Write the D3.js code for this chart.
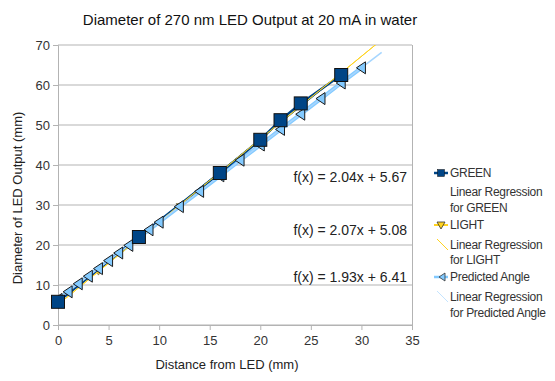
<!DOCTYPE html>
<html>
<head>
<meta charset="utf-8">
<script src="https://cdn.jsdelivr.net/npm/d3@7"></script>
<style>
  body { margin: 0; background: #fff; }
  svg { font-family: "Liberation Sans", Arial, sans-serif; }
</style>
</head>
<body>
<svg id="chart" width="555" height="381"></svg>
<script>
// ---- data ----
const greenX = [0, 8, 16, 20, 22, 24, 28];
const greenY = [5.8, 22, 38, 46.3, 51.2, 55.4, 62.5];

const lightX = [0, 4, 8, 12, 16, 20, 24, 28, 32];
const lightY = [5.1, 13.4, 21.6, 29.9, 38.2, 46.5, 54.8, 63.0, 71.3];

const predX = [0, 1, 2, 3, 4, 5, 6, 7, 8, 9, 10, 12, 14, 16, 18, 20, 22, 24, 26, 28, 30];
const predY = [6.4, 8.3, 10.3, 12.2, 14.1, 16.1, 18.0, 19.9, 21.9, 23.8, 25.7, 29.6, 33.4, 37.3, 41.2, 45.0, 48.9, 52.7, 56.6, 60.5, 64.3];

const trendSlopes = [2.04, 2.07, 1.93];
const trendIntercepts = [5.67, 5.08, 6.41];
const trendRanges = [[0, 28], [0, 32], [0, 32]];
const equationLabels = ["f(x) = 2.04x + 5.67", "f(x) = 2.07x + 5.08", "f(x) = 1.93x + 6.41"];

const xTicks = [0, 5, 10, 15, 20, 25, 30, 35];
const yTicks = [0, 10, 20, 30, 40, 50, 60, 70];

const legendLabels = [
  ["GREEN"], ["Linear Regression", "for GREEN"],
  ["LIGHT"], ["Linear Regression", "for LIGHT"],
  ["Predicted Angle"], ["Linear Regression", "for Predicted Angle"]
];

const colGreen = "#004586", colLight = "#ffd320", colPred = "#83caff";

// ---- chart ----
const svg = d3.select("#chart");
const x = d3.scaleLinear().domain([0, 35]).range([58, 412]);
const y = d3.scaleLinear().domain([0, 70]).range([325, 45]);

svg.append("defs").append("clipPath").attr("id", "clip")
  .append("rect").attr("x", 58).attr("y", 45).attr("width", 354).attr("height", 280);

// gridlines
svg.append("g").selectAll("line").data(yTicks).join("line")
  .attr("x1", 58).attr("x2", 412)
  .attr("y1", d => y(d)).attr("y2", d => y(d))
  .attr("stroke", "#b3b3b3").attr("stroke-width", 1);
// right border
svg.append("line").attr("x1", 412.5).attr("x2", 412.5).attr("y1", 45).attr("y2", 325)
  .attr("stroke", "#b3b3b3");

// axes
const yAxis = svg.append("g").attr("transform", "translate(58,0)")
  .call(d3.axisLeft(y).tickValues(yTicks).tickSize(5).tickPadding(3));
const xAxis = svg.append("g").attr("transform", "translate(0,325)")
  .call(d3.axisBottom(x).tickValues(xTicks).tickSize(5).tickPadding(6));
[yAxis, xAxis].forEach(a => {
  a.selectAll("path,line").attr("stroke", "#b3b3b3");
  a.selectAll("text").attr("font-size", 13).attr("fill", "#333")
    .attr("font-family", "Liberation Sans, Arial, sans-serif");
});

const plot = svg.append("g").attr("clip-path", "url(#clip)");

// series lines
const lineGen = d3.line().x(d => x(d[0])).y(d => y(d[1]));
const predPts = predX.map((v, i) => [v, predY[i]]);
const greenPts = greenX.map((v, i) => [v, greenY[i]]);
const lightPts = lightX.map((v, i) => [v, lightY[i]]);

// LIGHT markers (small, underneath)
plot.append("g").selectAll("path").data(lightPts).join("path")
  .attr("d", d3.symbol(d3.symbolTriangle, 18)())
  .attr("transform", d => `translate(${x(d[0])},${y(d[1])}) rotate(180)`)
  .attr("fill", colLight).attr("stroke", "#333").attr("stroke-width", 0.5);

plot.append("path").datum(predPts).attr("d", lineGen)
  .attr("fill", "none").attr("stroke", colPred).attr("stroke-width", 4);
plot.append("path").datum(greenPts).attr("d", lineGen)
  .attr("fill", "none").attr("stroke", colGreen).attr("stroke-width", 2.5);
plot.append("path").datum(lightPts).attr("d", lineGen)
  .attr("fill", "none").attr("stroke", colLight).attr("stroke-width", 1);

// trend lines
const trendCols = [colGreen, colLight, "#a6d6ff"];
const trendW = [1, 1, 1.5];
trendSlopes.forEach((m, i) => {
  const r = trendRanges[i];
  plot.append("path")
    .datum([[r[0], m * r[0] + trendIntercepts[i]], [r[1], m * r[1] + trendIntercepts[i]]])
    .attr("d", lineGen).attr("fill", "none")
    .attr("stroke", trendCols[i]).attr("stroke-width", trendW[i]);
});

// pred markers (left-pointing triangles)
const triLeft = "M-5,0 L4,-6 L4,6 Z";
plot.append("g").selectAll("path").data(predPts).join("path")
  .attr("d", triLeft)
  .attr("transform", d => `translate(${x(d[0])},${y(d[1])})`)
  .attr("fill", colPred).attr("stroke", "#1a1a1a").attr("stroke-width", 1);

// green markers (squares)
svg.append("g").selectAll("rect").data(greenPts).join("rect")
  .attr("x", d => x(d[0]) - 6.5).attr("y", d => y(d[1]) - 6.5)
  .attr("width", 13).attr("height", 13)
  .attr("fill", colGreen).attr("stroke", "#111").attr("stroke-width", 1);

// equations
const eqY = [177, 230, 277];
equationLabels.forEach((t, i) => {
  svg.append("text").attr("x", 407).attr("y", eqY[i]).attr("dy", "0.35em")
    .attr("text-anchor", "end").attr("font-size", 14).attr("fill", "#222").text(t);
});

// title
svg.append("text").attr("x", 250).attr("y", 20).attr("dy", "0.35em")
  .attr("text-anchor", "middle").attr("font-size", 15).attr("fill", "#111")
  .text("Diameter of 270 nm LED Output at 20 mA in water");

// axis titles
svg.append("text").attr("x", 227).attr("y", 364).attr("dy", "0.35em")
  .attr("text-anchor", "middle").attr("font-size", 13).attr("fill", "#222")
  .text("Distance from LED (mm)");
svg.append("text").attr("transform", "translate(17,198) rotate(-90)").attr("dy", "0.35em")
  .attr("text-anchor", "middle").attr("font-size", 13).attr("fill", "#222")
  .text("Diameter of LED Output (mm)");

// legend
const legY = [[173], [192, 208], [225], [245, 260], [277], [297, 313]];
const leg = svg.append("g");
legendLabels.forEach((lines, i) => {
  lines.forEach((t, j) => {
    leg.append("text").attr("x", 450).attr("y", legY[i][j]).attr("dy", "0.35em")
      .attr("font-size", 12).attr("fill", "#333").attr("letter-spacing", -0.3).text(t);
  });
});
// legend symbols
leg.append("line").attr("x1", 434).attr("x2", 448).attr("y1", 173).attr("y2", 173)
  .attr("stroke", colGreen).attr("stroke-width", 2.5);
leg.append("rect").attr("x", 437.5).attr("y", 169.5).attr("width", 7).attr("height", 7)
  .attr("fill", colGreen).attr("stroke", "#111").attr("stroke-width", 0.5);
leg.append("line").attr("x1", 434).attr("x2", 448).attr("y1", 225).attr("y2", 225)
  .attr("stroke", colLight).attr("stroke-width", 2);
leg.append("path").attr("d", "M-4,-3 L4,-3 L0,4 Z").attr("transform", "translate(441,225)")
  .attr("fill", colLight).attr("stroke", "#333").attr("stroke-width", 0.8);
leg.append("line").attr("x1", 437).attr("x2", 448).attr("y1", 239).attr("y2", 250)
  .attr("stroke", colLight).attr("stroke-width", 1);
leg.append("line").attr("x1", 434).attr("x2", 448).attr("y1", 277).attr("y2", 277)
  .attr("stroke", colPred).attr("stroke-width", 2.5);
leg.append("path").attr("d", "M-3,0 L3,-4 L3,4 Z").attr("transform", "translate(442,277)")
  .attr("fill", colPred).attr("stroke", "#333").attr("stroke-width", 0.8);
leg.append("line").attr("x1", 437).attr("x2", 448).attr("y1", 291).attr("y2", 302)
  .attr("stroke", "#c4e4ff").attr("stroke-width", 1);
</script>
</body>
</html>
